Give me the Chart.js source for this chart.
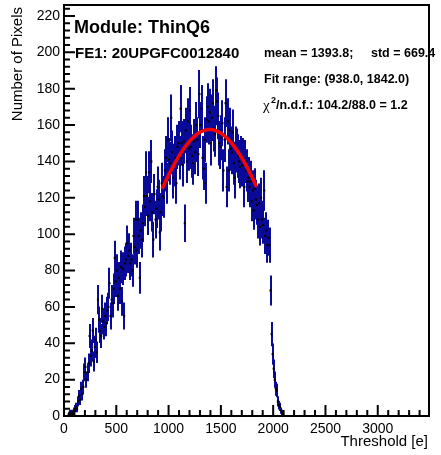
<!DOCTYPE html>
<html>
<head>
<meta charset="utf-8">
<script src="https://cdn.jsdelivr.net/npm/chart.js@4/dist/chart.umd.min.js"></script>
<style>
  html, body { margin: 0; padding: 0; background: #fff; }
  canvas { display: block; }
</style>
</head>
<body>
<canvas id="myChart" width="441" height="455"></canvas>
<script>
// histogram: 10 e wide bins starting at 0
const binStart = 0;
const binWidth = 10;
const counts = [
  0, 0, 0, 0, 1, 2, 1, 2, 1, 3,
  4, 5, 4, 8, 11, 9, 15, 12, 16, 24,
  27, 20, 24, 29, 44, 33, 36, 47, 30, 38,
  42, 35, 64, 53, 47, 44, 59, 52, 49, 55,
  51, 58, 60, 73, 55, 64, 62, 70, 87, 74,
  80, 66, 76, 70, 82, 63, 81, 55, 84, 86,
  95, 88, 91, 84, 86, 80, 99, 93, 108, 91,
  108, 99, 76, 102, 97, 106, 121, 115, 134, 121,
  110, 134, 118, 140, 112, 97, 122, 108, 114, 126,
  119, 101, 112, 128, 121, 120, 135, 142, 128, 152,
  141, 139, 164, 145, 131, 138, 142, 128, 148, 150,
  142, 169, 150, 138, 151, 106, 157, 140, 162, 147,
  168, 148, 143, 139, 151, 145, 160, 152, 144, 177,
  160, 169, 142, 136, 152, 128, 163, 170, 162, 167,
  150, 164, 172, 158, 155, 179, 173, 165, 150, 148,
  153, 161, 135, 152, 172, 126, 162, 135, 157, 147,
  145, 156, 139, 131, 147, 146, 143, 140, 137, 142,
  138, 141, 126, 140, 135, 129, 131, 126, 129, 118,
  124, 113, 125, 119, 116, 108, 117, 104, 120, 108,
  105, 124, 99, 102, 94, 98, 94, 69, 45, 34,
  26, 20, 15, 14, 8, 6, 5, 3, 2, 1
];

// fitted curve
const fitX = [938, 1000, 1050, 1100, 1150, 1200, 1250, 1300, 1350, 1400, 1450, 1500, 1550, 1600, 1650, 1700, 1750, 1800, 1842];
const fitY = [124.9, 132.5, 138.0, 143.0, 147.4, 151.0, 153.9, 156.0, 157.2, 157.5, 156.9, 155.5, 153.3, 150.2, 146.4, 141.9, 136.7, 131.0, 125.9];

const xTicks = [0, 500, 1000, 1500, 2000, 2500, 3000];
const yTicks = [0, 20, 40, 60, 80, 100, 120, 140, 160, 180, 200, 220];

const title = "Module: ThinQ6";
const subTitle = "FE1: 20UPGFC0012840";
const meanText = "mean = 1393.8;";
const stdText = "std = 669.4";
const fitRangeText = "Fit range: (938.0, 1842.0)";
const chiText = "/n.d.f.: 104.2/88.0 = 1.2";

const FONT = "'Liberation Sans', Arial, Helvetica, sans-serif";

const points = [];
counts.forEach((c, i) => {
  if (c > 0) points.push({ x: binStart + binWidth * (i + 0.5), y: c });
});
const fitPts = fitX.map((x, i) => ({ x: x, y: fitY[i] }));

// vertical error bars, sqrt(N)
const errorBars = {
  id: "errorBars",
  beforeDatasetsDraw(chart) {
    const { ctx, chartArea, scales } = chart;
    ctx.save();
    ctx.beginPath();
    ctx.rect(chartArea.left, chartArea.top, chartArea.right - chartArea.left, chartArea.bottom - chartArea.top);
    ctx.clip();
    ctx.strokeStyle = "#0a0a99";
    ctx.lineWidth = 2;
    ctx.beginPath();
    points.forEach((p) => {
      const e = Math.sqrt(p.y);
      const px = Math.round(scales.x.getPixelForValue(p.x));
      ctx.moveTo(px, scales.y.getPixelForValue(p.y - e));
      ctx.lineTo(px, scales.y.getPixelForValue(p.y + e));
    });
    ctx.stroke();
    ctx.restore();
  }
};

// ROOT-like frame, inward ticks and text boxes
const frame = {
  id: "frame",
  afterDraw(chart) {
    const { ctx, chartArea, scales } = chart;
    const { left, right, top, bottom } = chartArea;
    ctx.save();
    ctx.strokeStyle = "#000";
    ctx.lineWidth = 2;
    ctx.strokeRect(left, top, right - left, bottom - top);

    ctx.beginPath();
    for (let v = 0; v <= 3400; v += 100) {
      const px = scales.x.getPixelForValue(v);
      const len = v % 500 === 0 ? 11 : 6;
      ctx.moveTo(px, bottom);
      ctx.lineTo(px, bottom - len);
    }
    for (let v = 0; v <= 224; v += 4) {
      const py = scales.y.getPixelForValue(v);
      const len = v % 20 === 0 ? 11 : 6;
      ctx.moveTo(left, py);
      ctx.lineTo(left + len, py);
    }
    ctx.stroke();

    ctx.fillStyle = "#000";
    ctx.textBaseline = "middle";
    ctx.textAlign = "left";
    ctx.font = "bold 18px " + FONT;
    ctx.fillText(title, 74, 28);
    ctx.font = "bold 15px " + FONT;
    ctx.fillText(subTitle, 75, 54);
    ctx.font = "bold 12.5px " + FONT;
    ctx.fillText(meanText, 264, 54);
    ctx.fillText(stdText, 371, 54);
    ctx.fillText(fitRangeText, 264, 80);
    ctx.font = "15px 'Liberation Serif', 'DejaVu Serif', serif";
    ctx.fillText("\u03c7", 263, 106);
    ctx.font = "bold 9px " + FONT;
    ctx.fillText("2", 271, 101);
    ctx.font = "bold 12.5px " + FONT;
    ctx.fillText(chiText, 276, 106);

    ctx.font = "15px " + FONT;
    ctx.textAlign = "right";
    ctx.fillText("Threshold [e]", 428, 442);
    ctx.translate(18, 7);
    ctx.rotate(-Math.PI / 2);
    ctx.fillText("Number of Pixels", 0, 0);
    ctx.restore();
  }
};

const ctx = document.getElementById("myChart").getContext("2d");
new Chart(ctx, {
  type: "scatter",
  data: {
    datasets: [
      {
        label: "fit",
        data: fitPts,
        showLine: true,
        borderColor: "#ff0000",
        borderWidth: 3.5,
        pointRadius: 0,
        tension: 0.3,
        order: 0
      },
      {
        label: "hist",
        data: points,
        pointStyle: "rect",
        pointRadius: 1.5,
        backgroundColor: "#000",
        borderWidth: 0,
        order: 1
      }
    ]
  },
  options: {
    responsive: false,
    animation: false,
    devicePixelRatio: 1,
    layout: { padding: { left: 0, right: 12, top: 5, bottom: 0 } },
    plugins: { legend: { display: false }, tooltip: { enabled: false } },
    scales: {
      x: {
        type: "linear",
        min: 0,
        max: 3490,
        grid: { display: false, drawTicks: false },
        border: { display: false },
        ticks: {
          autoSkip: false,
          maxRotation: 0,
          padding: 5,
          color: "#000",
          font: { family: FONT, size: 14 },
          callback: (v) => String(v)
        },
        afterBuildTicks: (s) => { s.ticks = xTicks.map((v) => ({ value: v })); },
        afterFit: (s) => { s.height = 39; s.paddingLeft = 0; s.paddingRight = 0; }
      },
      y: {
        min: 0,
        max: 226,
        grid: { display: false, drawTicks: false },
        border: { display: false },
        ticks: {
          padding: 4,
          color: "#000",
          font: { family: FONT, size: 14 },
          callback: (v) => String(v)
        },
        afterBuildTicks: (s) => { s.ticks = yTicks.map((v) => ({ value: v })); },
        afterFit: (s) => { s.width = 64; s.paddingTop = 0; s.paddingBottom = 0; }
      }
    }
  },
  plugins: [errorBars, frame]
});
</script>
</body>
</html>
